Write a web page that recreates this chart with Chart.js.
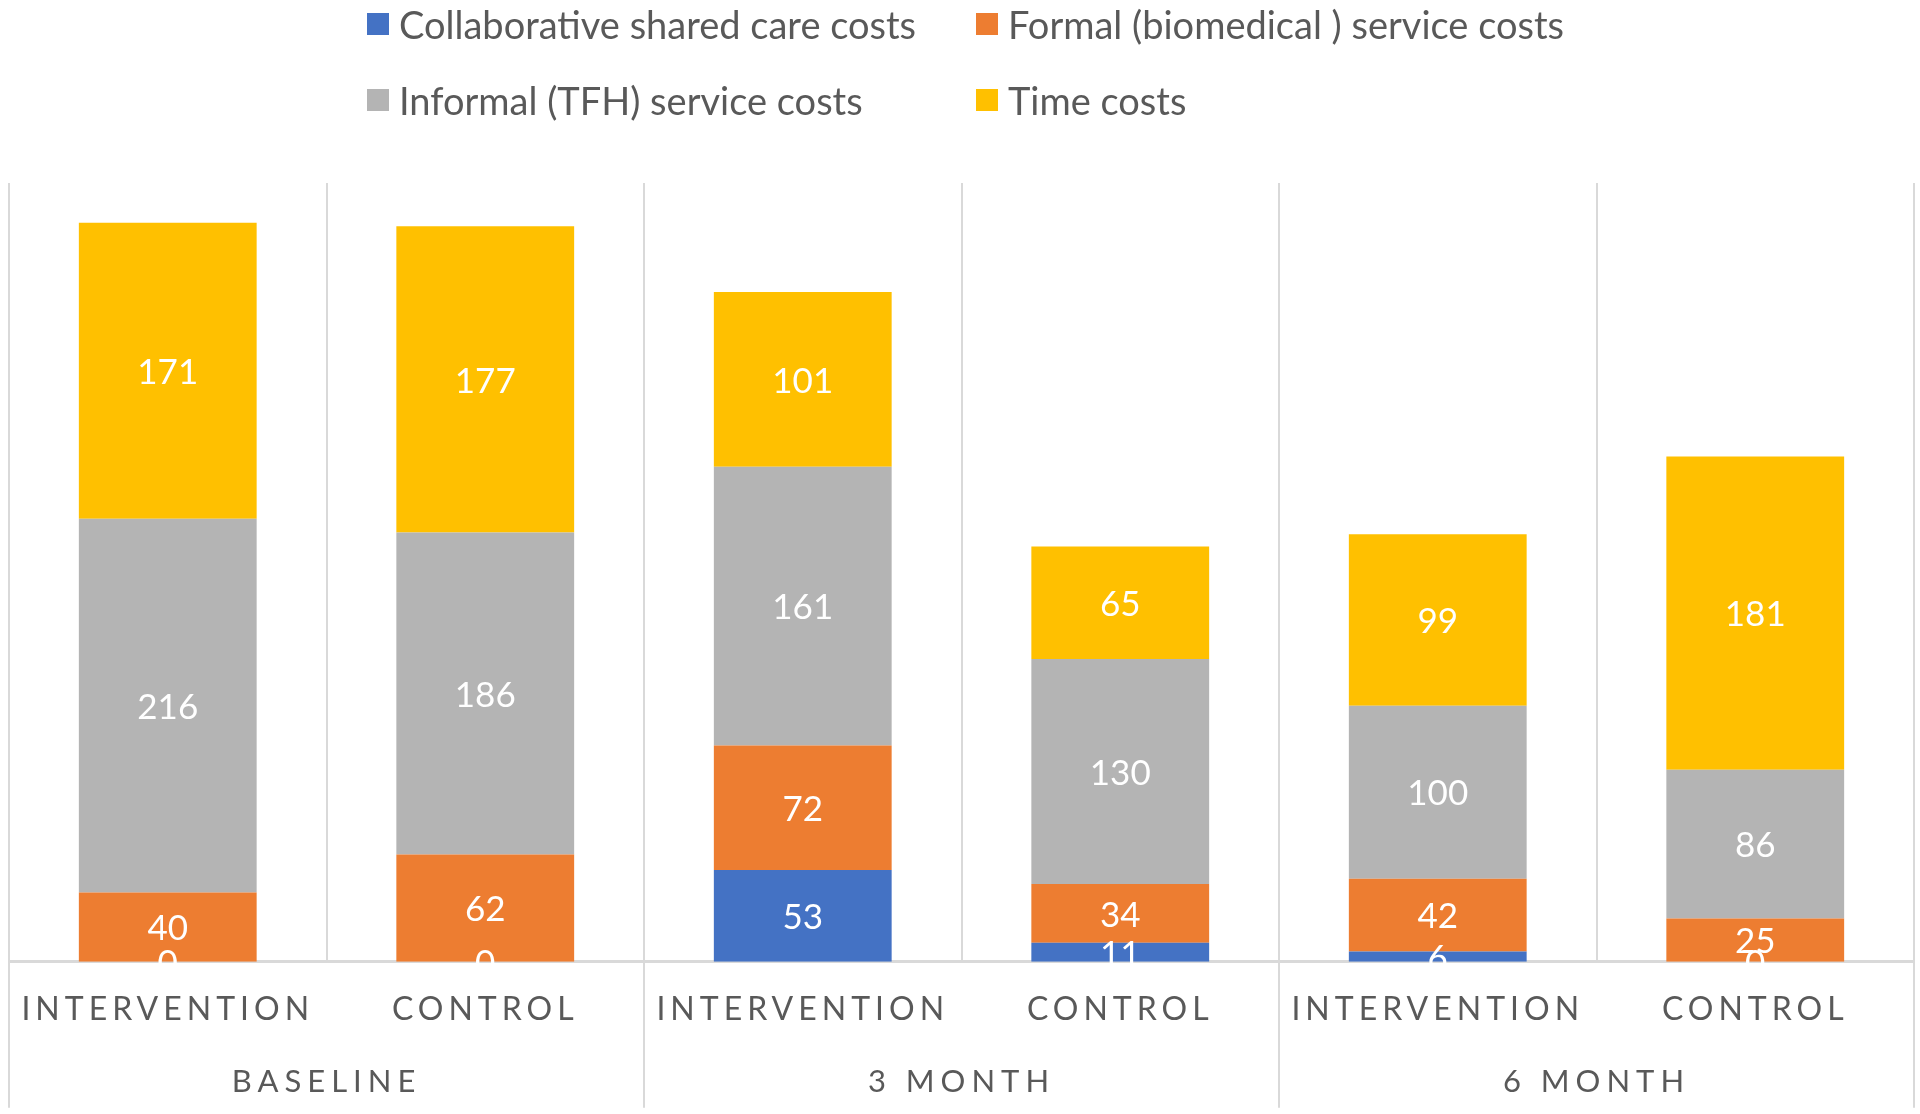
<!DOCTYPE html>
<html lang="en">
<head>
    <meta charset="UTF-8">
    <title>Costs by group and time point</title>
    <script src="https://cdn.jsdelivr.net/npm/chart.js@4.4.0/dist/chart.umd.min.js"></script>
    <style>
        body { margin: 0; background: #fff; font-family: Lato, sans-serif; }
        #wrap { position: relative; width: 1920px; height: 1114px; }
        #legend {
            position: absolute; left: 367px; top: 6px;
            display: grid; grid-template-columns: 609px auto; row-gap: 40px;
        }
        .item { display: flex; align-items: center; height: 36px; font-size: 38px; color: #595959; white-space: nowrap; }
        .swatch { width: 22px; height: 22px; margin-right: 10px; }
    </style>
</head>
<body>
    <div id="wrap">
        <canvas id="costChart" width="1920" height="1114"></canvas>
        <div id="legend"></div>
    </div>

    <script>
        // data
        const categories = ['INTERVENTION', 'CONTROL', 'INTERVENTION', 'CONTROL', 'INTERVENTION', 'CONTROL'];
        const groups = ['BASELINE', '3 MONTH', '6 MONTH'];
        const seriesNames = ['Collaborative shared care costs', 'Formal (biomedical ) service costs', 'Informal (TFH) service costs', 'Time costs'];
        const collaborative = [0, 0, 53, 11, 6, 0];
        const formal = [40, 62, 72, 34, 42, 25];
        const informal = [216, 186, 161, 130, 100, 86];
        const timeCosts = [171, 177, 101, 65, 99, 181];
        const colors = ['#4472C4', '#ED7D31', '#B4B4B4', '#FFC000'];

        const gridGray = '#D9D9D9';
        const textGray = '#595959';
        const labelSpacing = { x: '5px', x2: '6px' };

        // category scale that draws its labels with letter spacing
        class SpacedCategoryScale extends Chart.CategoryScale {
            static id = 'spacedCategory';
            drawLabels(chartArea) {
                const ctx = this.ctx;
                ctx.save();
                ctx.letterSpacing = labelSpacing[this.id] || '0px';
                super.drawLabels(chartArea);
                ctx.restore();
            }
        }
        Chart.register(SpacedCategoryScale);

        // white value labels in the middle of each segment
        const segmentLabels = {
            id: 'segmentLabels',
            afterDatasetsDraw(chart) {
                const ctx = chart.ctx;
                ctx.save();
                ctx.fillStyle = '#ffffff';
                ctx.font = '35px Lato';
                ctx.textAlign = 'center';
                ctx.textBaseline = 'middle';
                chart.data.datasets.forEach((ds, i) => {
                    chart.getDatasetMeta(i).data.forEach((bar, j) => {
                        ctx.fillText(String(ds.data[j]), bar.x, (bar.y + bar.base) / 2 + 2);
                    });
                });
                ctx.restore();
            }
        };

        const seriesData = [collaborative, formal, informal, timeCosts];

        new Chart(document.getElementById('costChart'), {
            type: 'bar',
            data: {
                labels: categories,
                datasets: seriesNames.map((name, i) => ({
                    label: name,
                    data: seriesData[i],
                    backgroundColor: colors[i],
                    categoryPercentage: 1,
                    barPercentage: 0.56
                }))
            },
            options: {
                responsive: false,
                animation: false,
                layout: { padding: { top: 183, left: 9, right: 6, bottom: 19 } },
                plugins: {
                    legend: { display: false },
                    tooltip: { enabled: false }
                },
                scales: {
                    // inner row: arms; long tick marks only at the time-point boundaries
                    x: {
                        type: 'spacedCategory',
                        stacked: true,
                        weight: 0,
                        offset: true,
                        grid: {
                            offset: true,
                            color: gridGray,
                            lineWidth: 2,
                            drawTicks: true,
                            tickLength: 146,
                            tickWidth: 2,
                            tickColor: (c) => (c.index === undefined || c.index % 2 === 0) ? gridGray : 'rgba(0,0,0,0)'
                        },
                        border: { display: true, color: gridGray, width: 3 },
                        ticks: {
                            mirror: true,
                            font: { family: 'Lato', size: 32 },
                            color: textGray,
                            padding: -67,
                            maxRotation: 0,
                            autoSkip: false
                        }
                    },
                    // outer row: time points
                    x2: {
                        type: 'spacedCategory',
                        position: 'bottom',
                        labels: groups,
                        weight: 1,
                        offset: true,
                        grid: {
                            offset: true,
                            drawOnChartArea: false,
                            drawTicks: true,
                            tickLength: 96,
                            tickColor: 'rgba(0,0,0,0)'
                        },
                        border: { display: false },
                        ticks: {
                            font: { family: 'Lato', size: 31 },
                            color: textGray,
                            padding: -6,
                            maxRotation: 0,
                            autoSkip: false
                        }
                    },
                    y: {
                        display: false,
                        stacked: true,
                        min: 0,
                        max: 450
                    }
                }
            },
            plugins: [segmentLabels]
        });

        // legend in two aligned columns, built from the series arrays
        const legend = document.getElementById('legend');
        seriesNames.forEach((name, i) => {
            const item = document.createElement('div');
            item.className = 'item';
            const sw = document.createElement('span');
            sw.className = 'swatch';
            sw.style.background = colors[i];
            item.appendChild(sw);
            item.appendChild(document.createTextNode(name));
            legend.appendChild(item);
        });
    </script>
</body>
</html>
